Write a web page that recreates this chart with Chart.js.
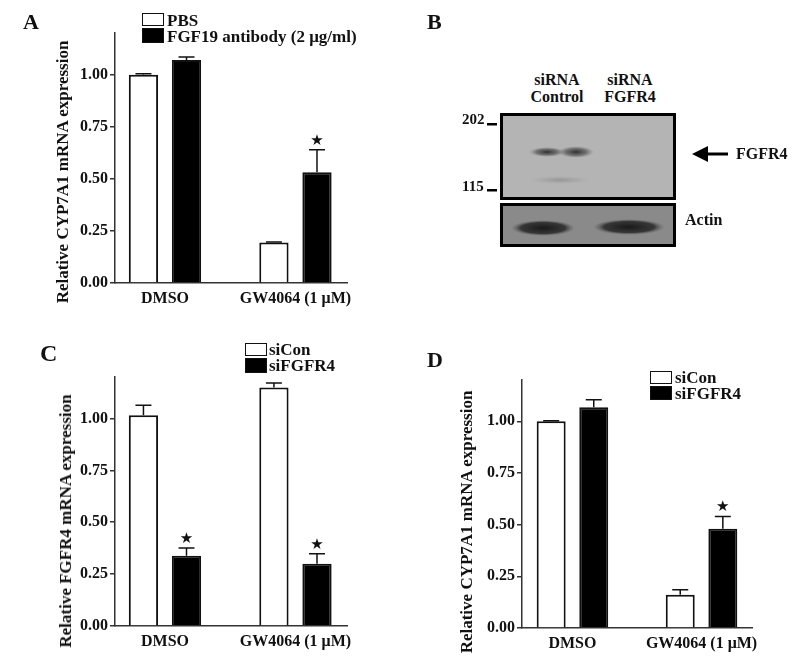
<!DOCTYPE html>
<html>
<head>
<meta charset="utf-8">
<script src="https://cdn.jsdelivr.net/npm/chart.js@4.4.0/dist/chart.umd.min.js"></script>
<style>
    body { margin: 0; background: #fff; }
    #fig { position: relative; width: 800px; height: 669px; overflow: hidden; font-family: "Liberation Serif", serif; font-weight: bold; color: #111; }
    #fig canvas { position: absolute; }
    .txt { position: absolute; white-space: nowrap; line-height: 1; }
    .ytitle { position: absolute; white-space: nowrap; font-size: 17px; transform: translate(-50%, -50%) rotate(-90deg); }
    .box { position: absolute; box-sizing: border-box; border: 1.5px solid #111; }
</style>
</head>
<body>
<div id="fig">
    <canvas id="chartA" style="left:0;top:0"></canvas>
    <canvas id="chartC" style="left:0;top:330px"></canvas>
    <canvas id="chartD" style="left:400px;top:330px"></canvas>
    <canvas id="blot" width="260" height="150" style="left:480px;top:105px"></canvas>
</div>
<script>
const categories = ['DMSO', 'GW4064 (1 μM)'];
const yTicks = [0, 0.25, 0.5, 0.75, 1.0];

// panel A
const pbsValues = [1.00, 0.194];
const pbsErrors = [0.004, 0.003];
const fgf19Values = [1.07, 0.532];
const fgf19Errors = [0.015, 0.108];
const starsA = [[false, false], [false, true]];

// panel C
const siConFgfr4 = [1.016, 1.15];
const siConFgfr4Err = [0.048, 0.021];
const siFgfr4Fgfr4 = [0.339, 0.30];
const siFgfr4Fgfr4Err = [0.037, 0.048];
const starsC = [[false, true], [false, true]];

// panel D
const siConCyp = [1.00, 0.161];
const siConCypErr = [0.003, 0.024];
const siFgfr4Cyp = [1.068, 0.48];
const siFgfr4CypErr = [0.037, 0.06];
const starsD = [[false, false], [false, true]];

const FONT = '"Liberation Serif", serif';
const INK = '#111';
const AXIS = '#333';

// upward error bars and significance stars
const errorBarPlugin = {
    id: 'errorBars',
    afterDatasetsDraw(chart) {
        const ctx = chart.ctx;
        const y = chart.scales.y;
        chart.data.datasets.forEach((ds, di) => {
            const meta = chart.getDatasetMeta(di);
            meta.data.forEach((bar, i) => {
                const top = ds.data[i].y + ds.errors[i];
                const py = y.getPixelForValue(top);
                ctx.save();
                ctx.strokeStyle = INK;
                ctx.lineWidth = 1.5;
                ctx.beginPath();
                ctx.moveTo(bar.x, bar.y);
                ctx.lineTo(bar.x, py);
                ctx.moveTo(bar.x - 8, py);
                ctx.lineTo(bar.x + 8, py);
                ctx.stroke();
                if (ds.stars[i]) {
                    ctx.fillStyle = INK;
                    ctx.font = '15px "DejaVu Sans"';
                    ctx.textAlign = 'center';
                    ctx.textBaseline = 'middle';
                    ctx.fillText('★', bar.x, py - 9);
                }
                ctx.restore();
            });
        });
    }
};

function makeChart(id, w, h, pad, yAxisW, xAxisH, xMin, xMax, series) {
    const canvas = document.getElementById(id);
    canvas.width = w;
    canvas.height = h;
    const datasets = series.map(s => ({
        label: s.label,
        data: s.values.map((v, i) => ({ x: i, y: v })),
        errors: s.errors,
        stars: s.stars,
        backgroundColor: s.fill,
        borderColor: INK,
        borderWidth: 2,
        categoryPercentage: 0.66,
        barPercentage: 0.68
    }));
    return new Chart(canvas.getContext('2d'), {
        type: 'bar',
        data: { datasets: datasets },
        plugins: [errorBarPlugin],
        options: {
            responsive: false,
            animation: false,
            layout: { padding: pad },
            plugins: { legend: { display: false }, tooltip: { enabled: false } },
            scales: {
                x: {
                    type: 'linear',
                    offset: false,
                    min: xMin,
                    max: xMax,
                    afterBuildTicks: s => { s.ticks = categories.map((c, i) => ({ value: i })); },
                    afterFit: s => { s.height = xAxisH; },
                    grid: { display: false, drawTicks: false, offset: false },
                    border: { display: true, color: AXIS, width: 1.5 },
                    ticks: {
                        padding: 6,
                        color: INK,
                        font: { family: FONT, size: 16, weight: 'bold' },
                        callback: v => categories[v],
                        maxRotation: 0
                    }
                },
                y: {
                    min: 0,
                    max: 1.2,
                    afterBuildTicks: s => { s.ticks = yTicks.map(v => ({ value: v })); },
                    afterFit: s => { s.width = yAxisW; },
                    grid: { drawOnChartArea: false, tickLength: 5, color: AXIS, lineWidth: 1.5 },
                    border: { display: true, color: AXIS, width: 1.5 },
                    ticks: {
                        padding: 2,
                        color: INK,
                        font: { family: FONT, size: 16, weight: 'bold' },
                        callback: v => v.toFixed(2)
                    }
                }
            }
        }
    });
}

document.addEventListener('DOMContentLoaded', function () {
    const fig = document.getElementById('fig');

    function text(str, x, y, size, extra) {
        const d = document.createElement('div');
        d.className = 'txt';
        d.textContent = str;
        d.style.left = x + 'px';
        d.style.top = y + 'px';
        d.style.fontSize = size + 'px';
        d.style.transform = 'translateY(-50%)';
        if (extra) Object.assign(d.style, extra);
        fig.appendChild(d);
        return d;
    }
    function ytitle(str, cx, cy) {
        const d = document.createElement('div');
        d.className = 'ytitle';
        d.textContent = str;
        d.style.left = cx + 'px';
        d.style.top = cy + 'px';
        fig.appendChild(d);
    }
    function box(x, y, w, h, fill) {
        const d = document.createElement('div');
        d.className = 'box';
        Object.assign(d.style, { left: x + 'px', top: y + 'px', width: w + 'px', height: h + 'px', background: fill });
        fig.appendChild(d);
    }

    // A
    makeChart('chartA', 400, 330, { top: 33, right: 53, left: 0, bottom: 0 }, 115, 47, -0.383, 1.395, [
        { label: 'PBS', values: pbsValues, errors: pbsErrors, stars: starsA.map(r => r[0]), fill: '#fff' },
        { label: 'FGF19 antibody (2 μg/ml)', values: fgf19Values, errors: fgf19Errors, stars: starsA.map(r => r[1]), fill: '#000' }
    ]);
    text('A', 23, 22, 22);
    ytitle('Relative CYP7A1 mRNA expression', 63, 172);
    box(142, 13, 22, 13, '#fff');
    box(142, 28, 22, 15, '#000');
    text('PBS', 167, 20, 17);
    text('FGF19 antibody (2 μg/ml)', 167, 36, 17);

    // C
    makeChart('chartC', 400, 339, { top: 47, right: 53, left: 0, bottom: 0 }, 115, 43, -0.383, 1.395, [
        { label: 'siCon', values: siConFgfr4, errors: siConFgfr4Err, stars: starsC.map(r => r[0]), fill: '#fff' },
        { label: 'siFGFR4', values: siFgfr4Fgfr4, errors: siFgfr4Fgfr4Err, stars: starsC.map(r => r[1]), fill: '#000' }
    ]);
    text('C', 40, 353, 24);
    ytitle('Relative FGFR4 mRNA expression', 66, 521);
    box(245, 343, 22, 13, '#fff');
    box(245, 358, 22, 15, '#000');
    text('siCon', 269, 349, 17);
    text('siFGFR4', 269, 365, 17);

    // D
    makeChart('chartD', 400, 339, { top: 50, right: 48, left: 0, bottom: 0 }, 122, 41, -0.391, 1.391, [
        { label: 'siCon', values: siConCyp, errors: siConCypErr, stars: starsD.map(r => r[0]), fill: '#fff' },
        { label: 'siFGFR4', values: siFgfr4Cyp, errors: siFgfr4CypErr, stars: starsD.map(r => r[1]), fill: '#000' }
    ]);
    text('D', 427, 360, 22);
    ytitle('Relative CYP7A1 mRNA expression', 467, 522);
    box(650, 371, 22, 13, '#fff');
    box(650, 386, 22, 14, '#000');
    text('siCon', 675, 377, 17);
    text('siFGFR4', 675, 393, 17);

    // B: western blot (image panel, drawn directly)
    text('B', 427, 22, 22);
    text('siRNA', 557, 80, 16, { transform: 'translate(-50%,-50%)' });
    text('Control', 557, 97, 16, { transform: 'translate(-50%,-50%)' });
    text('siRNA', 630, 80, 16, { transform: 'translate(-50%,-50%)' });
    text('FGFR4', 630, 97, 16, { transform: 'translate(-50%,-50%)' });
    text('202', 462, 119, 15);
    text('115', 462, 186, 15);
    text('FGFR4', 736, 154, 16);
    text('Actin', 685, 220, 16);

    const b = document.getElementById('blot').getContext('2d');
    const ox = 480, oy = 105;
    // marker ticks
    b.fillStyle = '#000';
    b.fillRect(487 - ox, 123 - oy, 10, 2.5);
    b.fillRect(487 - ox, 189 - oy, 10, 2.5);
    // upper blot
    b.fillStyle = '#b4b4b4';
    b.fillRect(500 - ox, 113 - oy, 176, 87);
    const band = b.createRadialGradient(0, 0, 0, 0, 0, 1);
    band.addColorStop(0, 'rgba(40,40,40,0.95)');
    band.addColorStop(0.6, 'rgba(70,70,70,0.6)');
    band.addColorStop(1, 'rgba(120,120,120,0)');
    function blob(cx, cy, rx, ry, g) {
        b.save();
        b.translate(cx - ox, cy - oy);
        b.scale(rx, ry);
        b.fillStyle = g;
        b.beginPath();
        b.arc(0, 0, 1, 0, Math.PI * 2);
        b.fill();
        b.restore();
    }
    blob(547, 152, 18, 5, band);
    blob(576, 152, 18, 6, band);
    const faint = b.createRadialGradient(0, 0, 0, 0, 0, 1);
    faint.addColorStop(0, 'rgba(90,90,90,0.35)');
    faint.addColorStop(1, 'rgba(120,120,120,0)');
    blob(560, 180, 30, 4, faint);
    b.strokeStyle = '#000';
    b.lineWidth = 3;
    b.strokeRect(501.5 - ox, 114.5 - oy, 173, 84);
    // actin blot
    b.fillStyle = '#8a8a8a';
    b.fillRect(500 - ox, 203 - oy, 176, 44);
    const aband = b.createRadialGradient(0, 0, 0, 0, 0, 1);
    aband.addColorStop(0, 'rgba(25,25,25,1)');
    aband.addColorStop(0.7, 'rgba(40,40,40,0.85)');
    aband.addColorStop(1, 'rgba(100,100,100,0)');
    blob(543, 228, 32, 8, aband);
    blob(629, 227, 36, 8, aband);
    b.strokeRect(501.5 - ox, 204.5 - oy, 173, 41);
    // arrow
    b.fillStyle = '#000';
    b.lineWidth = 3;
    b.beginPath();
    b.moveTo(705 - ox, 154 - oy);
    b.lineTo(728 - ox, 154 - oy);
    b.stroke();
    b.beginPath();
    b.moveTo(692 - ox, 154 - oy);
    b.lineTo(708 - ox, 146 - oy);
    b.lineTo(708 - ox, 162 - oy);
    b.closePath();
    b.fill();
});
</script>
</body>
</html>
